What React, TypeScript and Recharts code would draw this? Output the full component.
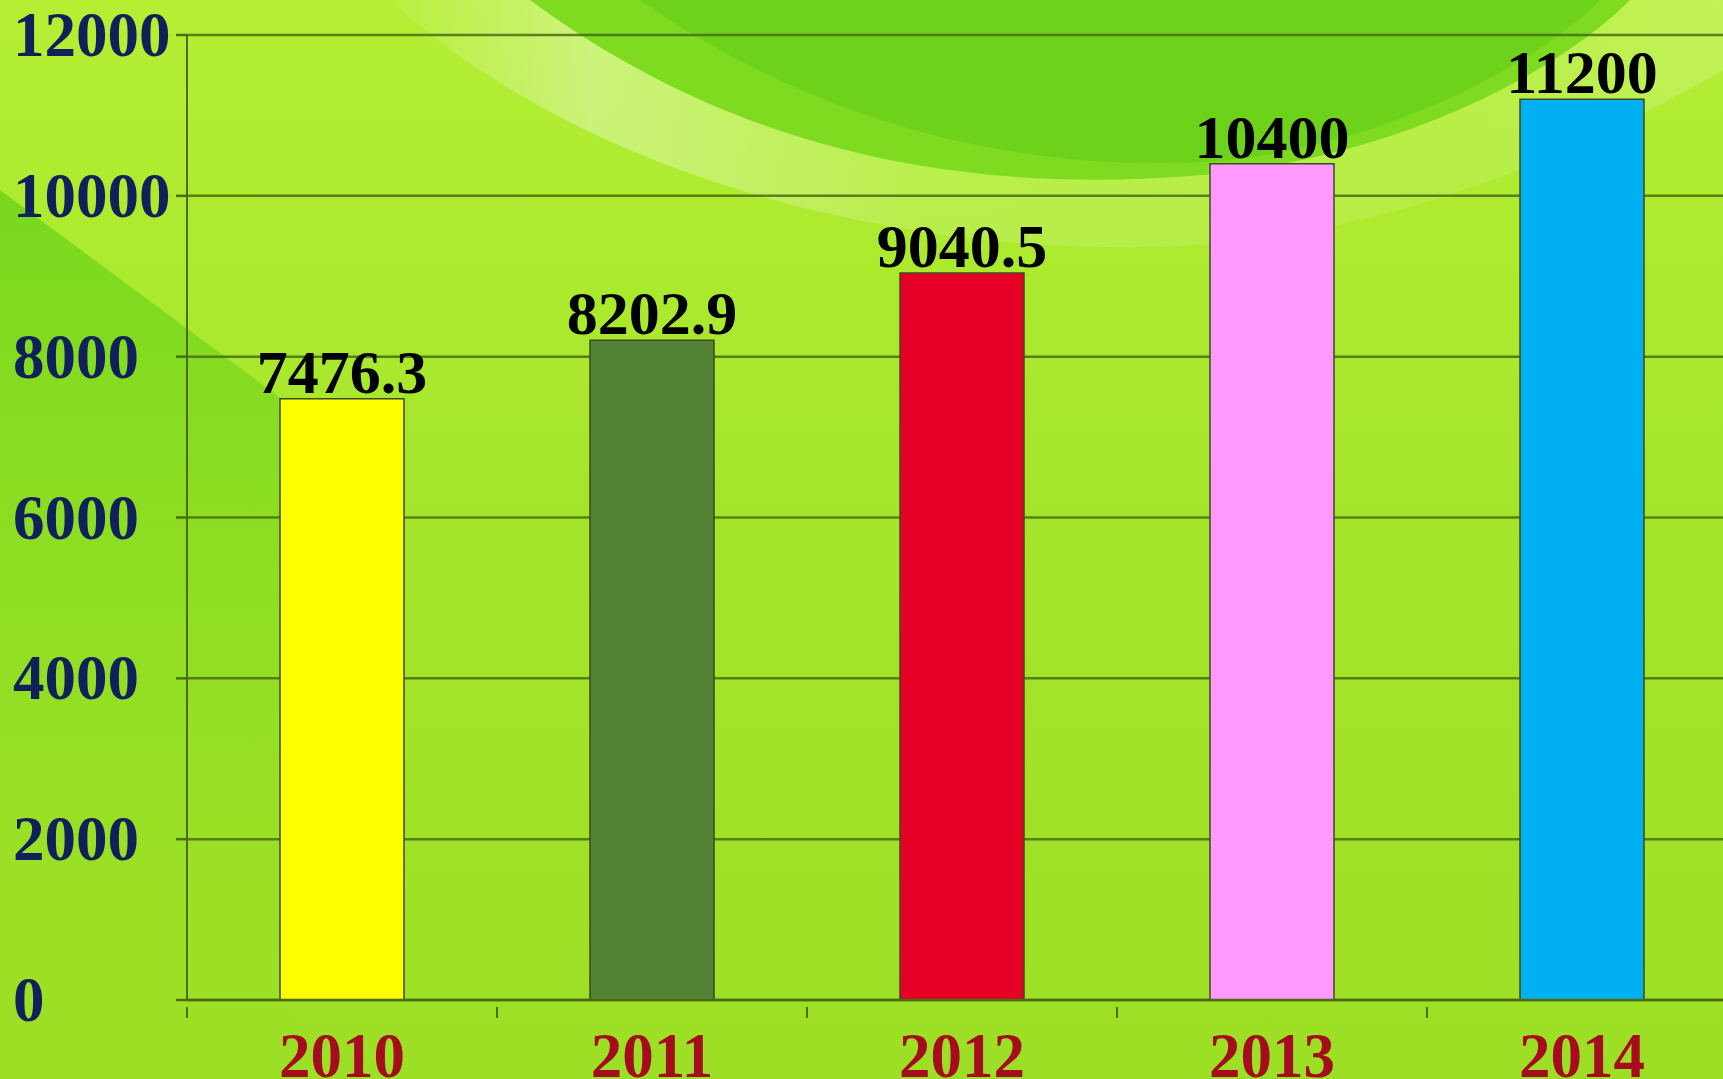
import React from 'react';
import { BarChart, Bar, XAxis, YAxis, CartesianGrid, Cell, LabelList } from 'recharts';

const years = ['2010', '2011', '2012', '2013', '2014'];
const values = [7476.3, 8202.9, 9040.5, 10400, 11200];
const valueLabels = ['7476.3', '8202.9', '9040.5', '10400', '11200'];
const barColors = ['#ffff00', '#548235', '#e60026', '#ff99ff', '#00b0f0'];
const yTicks = [0, 2000, 4000, 6000, 8000, 10000, 12000];

const data = years.map((year, i) => ({ year, value: values[i], label: valueLabels[i] }));

const W = 1737;
const H = 1079;
const AXIS_W = 187;
const TOP = 35;
const XAXIS_H = 79;
const BAND = (W - AXIS_W) / years.length;
const FONT = '"Liberation Serif", "Times New Roman", serif';
const LINE = '#4a6c14';

function YTick(props: any) {
  const { y, payload } = props;
  return (
    <g>
      <line x1={AXIS_W - 11} x2={AXIS_W} y1={y} y2={y} stroke={LINE} strokeWidth={2.5} />
      <text x={13} y={y} dy={21} textAnchor="start" fontFamily={FONT} fontWeight="bold" fontSize={63} fill="#10205a">
        {payload.value}
      </text>
    </g>
  );
}

function XTick(props: any) {
  const { x, y, payload } = props;
  const left = x - BAND / 2;
  return (
    <g>
      <line x1={left} x2={left} y1={y - 1} y2={y + 10} stroke={LINE} strokeWidth={2} />
      <text x={x} y={y + 69} textAnchor="middle" fontFamily={FONT} fontWeight="bold" fontSize={63} fill="#a50d1f">
        {payload.value}
      </text>
    </g>
  );
}

function ValueLabel(props: any) {
  const { x, y, width, value } = props;
  return (
    <text x={x + width / 2} y={y - 6} textAnchor="middle" fontFamily={FONT} fontWeight="bold" fontSize={62} fill="#000">
      {value}
    </text>
  );
}

function Background() {
  return (
    <svg width={1723} height={1079} style={{ position: 'absolute', left: 0, top: 0 }}>
      <defs>
        <linearGradient id="base" x1="0" y1="0" x2="0" y2="1">
          <stop offset="0" stopColor="#b4ef34" />
          <stop offset="0.45" stopColor="#a6e62a" />
          <stop offset="1" stopColor="#9cdf24" />
        </linearGradient>
        <linearGradient id="leftShade" x1="0" y1="0" x2="0" y2="1">
          <stop offset="0" stopColor="#78d81e" stopOpacity="1" />
          <stop offset="0.6" stopColor="#8cdc22" stopOpacity="0.6" />
          <stop offset="1" stopColor="#9cdf24" stopOpacity="0" />
        </linearGradient>
        <linearGradient id="glow" x1="0" y1="0" x2="1" y2="0">
          <stop offset="0" stopColor="#ffffff" stopOpacity="0.05" />
          <stop offset="0.15" stopColor="#ffffff" stopOpacity="0.35" />
          <stop offset="0.4" stopColor="#ffffff" stopOpacity="0.14" />
          <stop offset="0.8" stopColor="#ffffff" stopOpacity="0.1" />
          <stop offset="1" stopColor="#ffffff" stopOpacity="0.18" />
        </linearGradient>
      </defs>
      <rect x={0} y={0} width={1723} height={1079} fill="url(#base)" />
      <path d="M 0 190 L 290 405 L 290 1079 L 0 1079 Z" fill="url(#leftShade)" />
      <path d="M 390 0 C 620 210, 1000 270, 1250 240 C 1450 215, 1620 130, 1723 70 L 1723 0 Z" fill="url(#glow)" />
      <path d="M 530 0 C 760 170, 1000 190, 1190 176 C 1400 160, 1560 70, 1630 0 Z" fill="#7edb20" />
      <path d="M 640 0 C 840 140, 1060 175, 1230 160 C 1400 140, 1540 60, 1600 0 Z" fill="#6ed11a" />
    </svg>
  );
}

export default function App() {
  return (
    <div style={{ position: 'fixed', left: 0, top: 0, width: 1723, height: H, overflow: 'hidden' }}>
      <Background />
      <div style={{ position: 'absolute', left: 0, top: 0 }}>
        <BarChart
          width={W}
          height={H}
          data={data}
          margin={{ top: TOP, right: 0, bottom: 0, left: 0 }}
          barCategoryGap="30%"
        >
          <CartesianGrid vertical={false} stroke={LINE} strokeWidth={2.5} strokeOpacity={0.85} />
          <XAxis
            dataKey="year"
            height={XAXIS_H}
            axisLine={{ stroke: LINE, strokeWidth: 2.5 }}
            tickLine={false}
            tick={<XTick />}
            interval={0}
          />
          <YAxis
            width={AXIS_W}
            domain={[0, 12000]}
            ticks={yTicks}
            axisLine={{ stroke: LINE, strokeWidth: 2 }}
            tickLine={false}
            tick={<YTick />}
            interval={0}
          />
          <Bar dataKey="value" isAnimationActive={false} stroke="#3d4a22" strokeWidth={1.5}>
            {data.map((d, i) => (
              <Cell key={d.year} fill={barColors[i]} />
            ))}
            <LabelList dataKey="label" content={<ValueLabel />} />
          </Bar>
        </BarChart>
      </div>
    </div>
  );
}
